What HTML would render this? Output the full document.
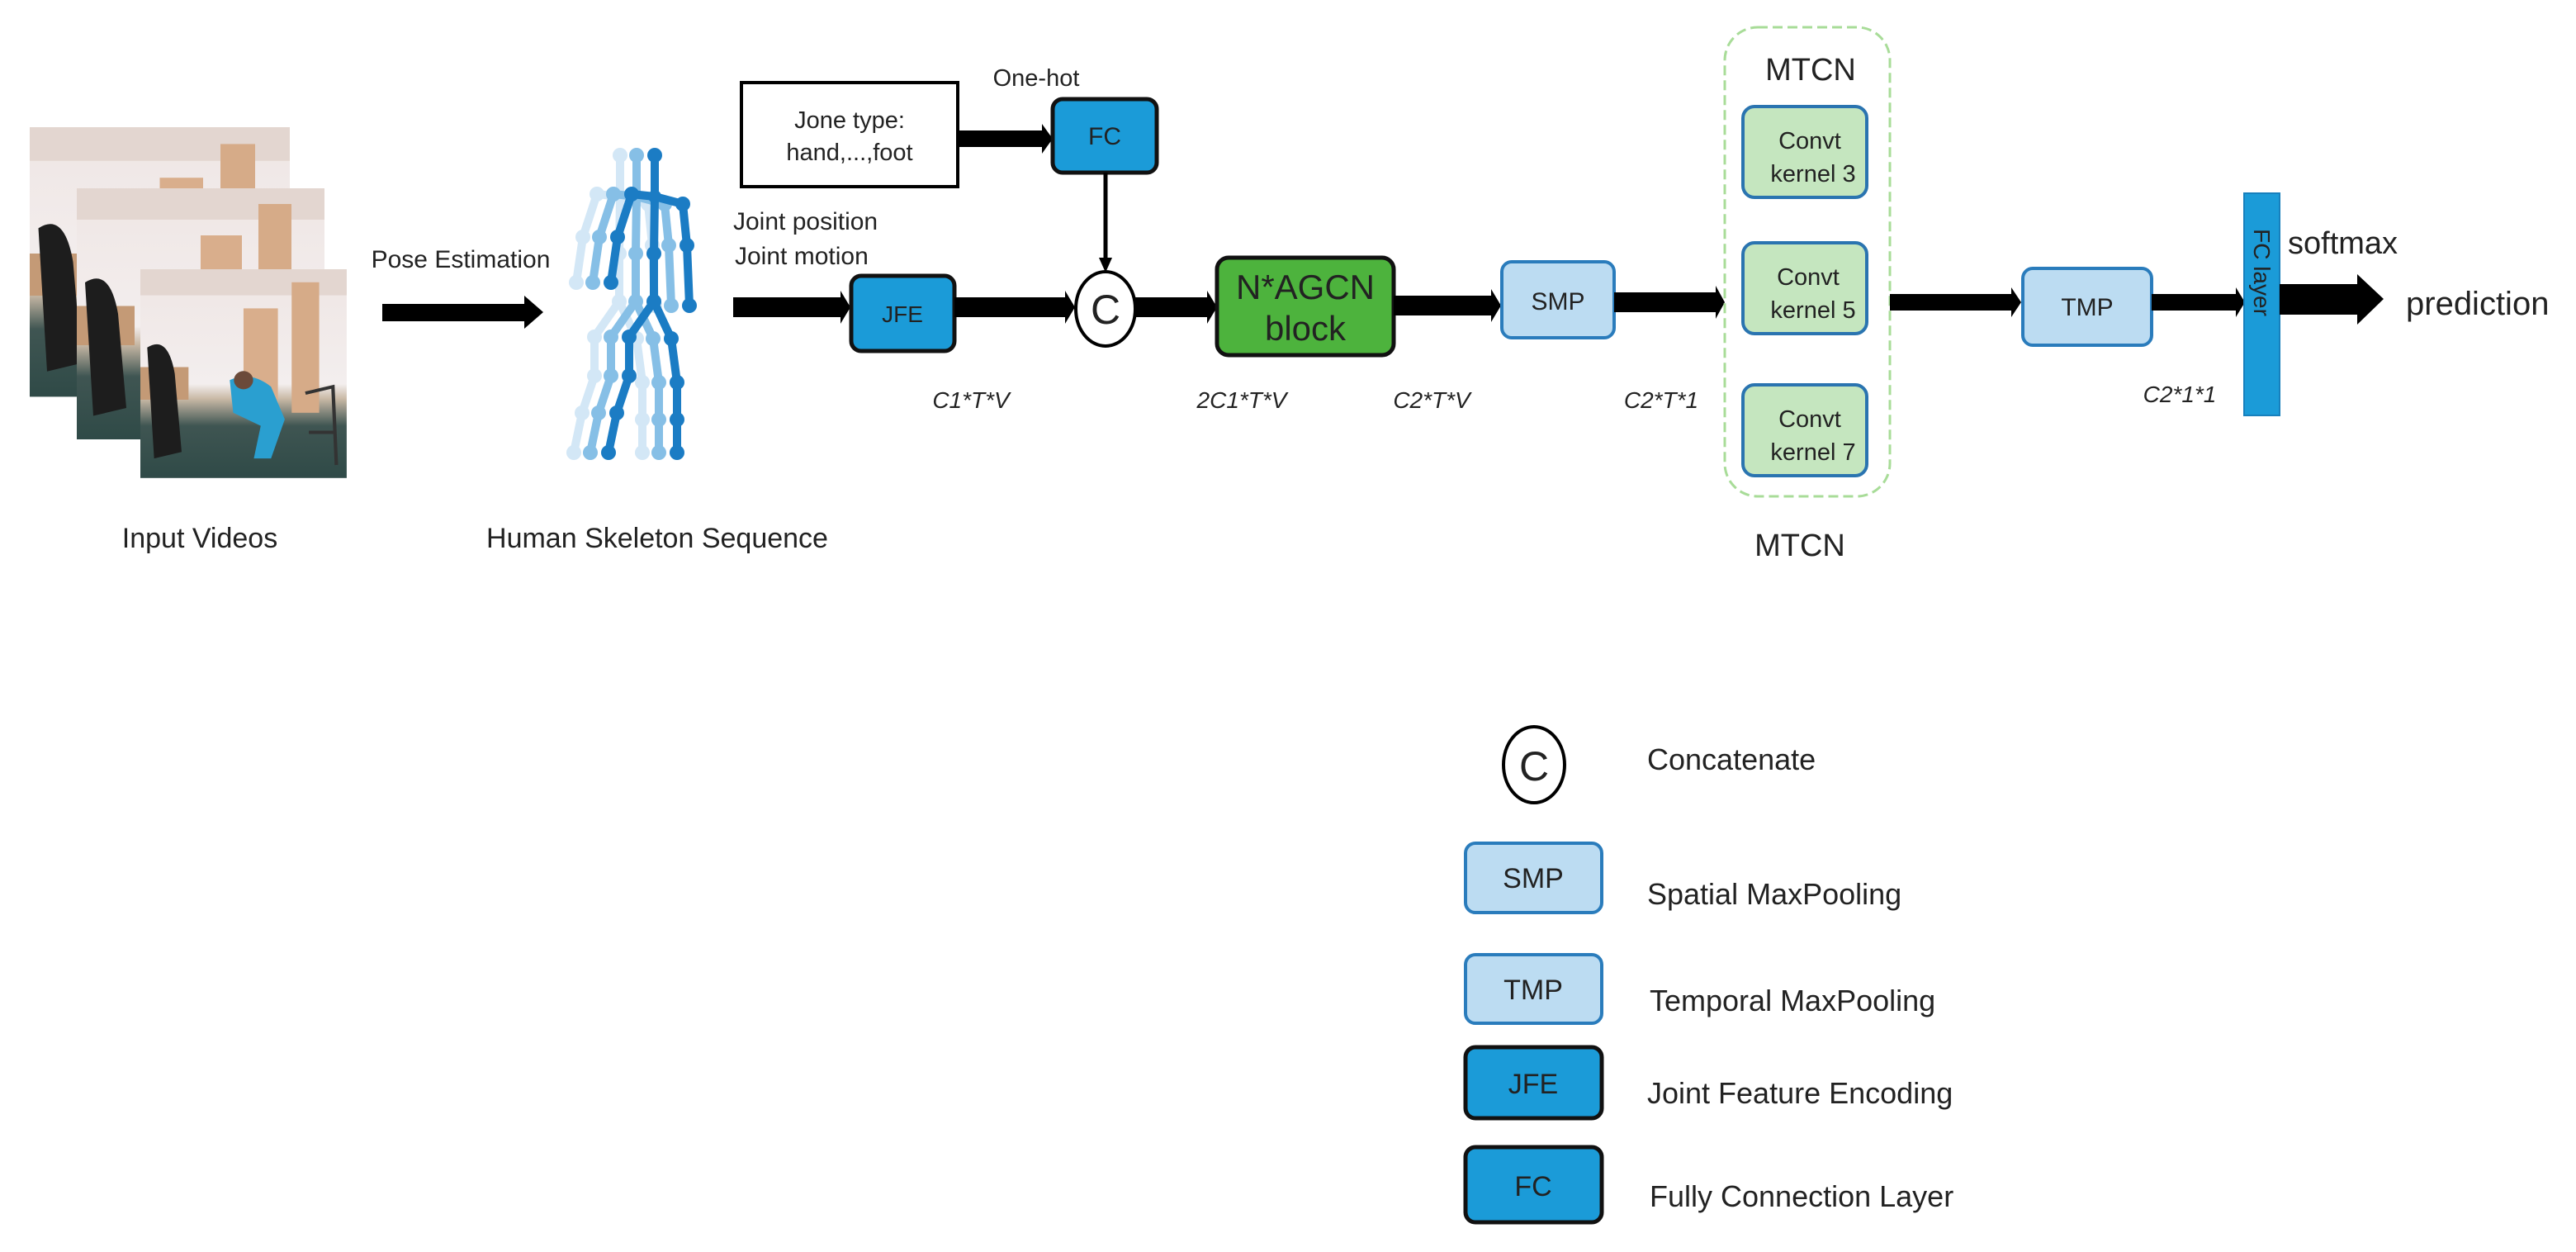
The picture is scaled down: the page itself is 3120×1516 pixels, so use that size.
<!DOCTYPE html>
<html><head><meta charset="utf-8"><style>
html,body{margin:0;padding:0;background:#fff;}
svg{display:block;}
text{font-family:"Liberation Sans",sans-serif;fill:#222;}
</style></head><body>
<svg width="3120" height="1516" viewBox="0 0 3120 1516" xmlns="http://www.w3.org/2000/svg">
<defs>
<linearGradient id="wall" x1="0" y1="0" x2="0" y2="1">
<stop offset="0" stop-color="#efe6e4"/><stop offset="0.55" stop-color="#f3eeee"/><stop offset="0.62" stop-color="#c9b9a6"/><stop offset="0.75" stop-color="#3f5552"/><stop offset="1" stop-color="#2f4a47"/>
</linearGradient>
<g id="frame">
<rect x="0" y="0" width="300" height="320" fill="url(#wall)"/>
<rect x="0" y="0" width="300" height="40" fill="#e3d6d0"/>
<rect x="150" y="60" width="50" height="160" fill="#d9ae8c"/>
<rect x="220" y="20" width="40" height="200" fill="#d6ab88"/>
<rect x="0" y="150" width="70" height="50" fill="#c49a76"/>
<path d="M10 120 q30 -20 40 40 l10 120 l-40 10 z" fill="#1d1d1d"/>
</g>
<g id="skel">
<g stroke-width="10" fill="none" stroke-linecap="round" stroke-linejoin="round">
<polyline points="793,188 793,238 792,307 792,365"/>
<polyline points="765,235 793,238 827,247"/>
<polyline points="765,235 748,287 740,342"/>
<polyline points="827,247 832,297 835,370"/>
<polyline points="792,365 762,408 762,455 747,500 737,548"/>
<polyline points="792,365 813,410 820,463 820,508 820,548"/>
</g>
<g stroke="none">
<circle cx="793" cy="188" r="9"/><circle cx="793" cy="238" r="8"/><circle cx="765" cy="235" r="9"/><circle cx="827" cy="247" r="9"/>
<circle cx="748" cy="287" r="9"/><circle cx="740" cy="342" r="9"/><circle cx="832" cy="297" r="9"/><circle cx="835" cy="370" r="9"/>
<circle cx="792" cy="307" r="9"/><circle cx="792" cy="365" r="9"/><circle cx="762" cy="408" r="9"/><circle cx="813" cy="410" r="9"/>
<circle cx="762" cy="455" r="9"/><circle cx="820" cy="463" r="9"/><circle cx="747" cy="500" r="9"/><circle cx="820" cy="508" r="9"/>
<circle cx="737" cy="548" r="9"/><circle cx="820" cy="548" r="9"/>
</g>
</g>
</defs>

<!-- Input video frames -->
<use href="#frame" transform="translate(36,154) scale(1.05,1.02)"/>
<use href="#frame" transform="translate(93,228) scale(1.0,0.95)"/>
<g transform="translate(170,326) scale(0.833,0.79)">
<use href="#frame"/>
<path d="M130 170 q30 -15 60 10 l20 50 l-20 60 l-25 0 l10 -50 l-40 -20 z" fill="#2a9fd0"/>
<circle cx="150" cy="170" r="14" fill="#6b4a3a"/>
<path d="M240 190 l40 -10 l5 120 M245 250 l40 0" stroke="#333" stroke-width="5" fill="none"/>
</g>
<text x="242" y="663" font-size="34" text-anchor="middle">Input Videos</text>

<!-- Pose estimation arrow -->
<text x="558" y="324" font-size="30" text-anchor="middle">Pose Estimation</text>
<path d="M463 368 H635 V358 L658 378 L635 398 V389 H463 Z" fill="#000"/>

<!-- Skeleton -->
<use href="#skel" transform="translate(-42,0)" stroke="#d3e7f6" fill="#d3e7f6"/>
<use href="#skel" transform="translate(-22,0)" stroke="#86bfe6" fill="#86bfe6"/>
<use href="#skel" stroke="#1b7cc4" fill="#1b7cc4"/>
<text x="796" y="663" font-size="34" text-anchor="middle">Human Skeleton Sequence</text>

<!-- Joint labels -->
<text x="888" y="278" font-size="30">Joint  position</text>
<text x="890" y="320" font-size="30">Joint  motion</text>

<!-- Jone type box -->
<rect x="898" y="100" width="262" height="126" fill="#fff" stroke="#000" stroke-width="4"/>
<text x="1029" y="155" font-size="29" text-anchor="middle">Jone type:</text>
<text x="1029" y="194" font-size="29" text-anchor="middle">hand,...,foot</text>
<text x="1255" y="104" font-size="29" text-anchor="middle">One-hot</text>
<path d="M1160 158 H1262 V150 L1275 168 L1262 186 V178 H1160 Z" fill="#000"/>
<rect x="1275" y="120" width="126" height="89" rx="12" fill="#1b9bd8" stroke="#111" stroke-width="5"/>
<text x="1338" y="175" font-size="30" text-anchor="middle">FC</text>
<line x1="1339" y1="209" x2="1339" y2="318" stroke="#000" stroke-width="5"/>
<path d="M1331 312 L1339 330 L1347 312 Z" fill="#000"/>

<!-- main row arrows -->
<path d="M888 360 H1018 V352 L1030 372 L1018 392 V384 H888 Z" fill="#000"/>
<rect x="1031" y="334" width="125" height="91" rx="12" fill="#1b9bd8" stroke="#111" stroke-width="5"/>
<text x="1093" y="390" font-size="28" text-anchor="middle">JFE</text>
<path d="M1156 360 H1290 V352 L1302 372 L1290 392 V384 H1156 Z" fill="#000"/>
<ellipse cx="1339" cy="374" rx="36" ry="45" fill="#fff" stroke="#000" stroke-width="4"/>
<text x="1339" y="392" font-size="50" text-anchor="middle">C</text>
<path d="M1375 360 H1462 V352 L1474 372 L1462 392 V384 H1375 Z" fill="#000"/>
<rect x="1474" y="312" width="214" height="118" rx="14" fill="#4db33d" stroke="#111" stroke-width="5"/>
<text x="1581" y="362" font-size="42" text-anchor="middle">N*AGCN</text>
<text x="1581" y="412" font-size="42" text-anchor="middle">block</text>
<path d="M1688 358 H1806 V350 L1818 370 L1806 390 V382 H1688 Z" fill="#000"/>
<rect x="1819" y="317" width="136" height="92" rx="12" fill="#bcdcf2" stroke="#2a7cbc" stroke-width="4"/>
<text x="1887" y="375" font-size="30" text-anchor="middle">SMP</text>
<path d="M1955 354 H2078 V346 L2089 366 L2078 386 V378 H1955 Z" fill="#000"/>

<!-- dimension labels -->
<g font-style="italic" font-size="28" text-anchor="middle">
<text x="1176" y="494">C1*T*V</text>
<text x="1504" y="494">2C1*T*V</text>
<text x="1734" y="494">C2*T*V</text>
<text x="2012" y="494">C2*T*1</text>
<text x="2640" y="487">C2*1*1</text>
</g>

<!-- MTCN -->
<rect x="2089" y="33" width="200" height="568" rx="40" fill="none" stroke="#a8dc98" stroke-width="3" stroke-dasharray="12,6"/>
<text x="2193" y="97" font-size="38" text-anchor="middle">MTCN</text>
<g fill="#c5e6bf" stroke="#2a74b0" stroke-width="4">
<rect x="2111" y="129" width="150" height="110" rx="14"/>
<rect x="2111" y="294" width="150" height="110" rx="14"/>
<rect x="2111" y="466" width="150" height="110" rx="14"/>
</g>
<g font-size="29" text-anchor="middle">
<text x="2192" y="180">Convt</text><text x="2196" y="220">kernel 3</text>
<text x="2190" y="345">Convt</text><text x="2196" y="385">kernel 5</text>
<text x="2192" y="517">Convt</text><text x="2196" y="557">kernel 7</text>
</g>
<text x="2180" y="673" font-size="38" text-anchor="middle">MTCN</text>

<path d="M2289 356 H2436 V348 L2448 366 L2436 384 V376 H2289 Z" fill="#000"/>
<rect x="2450" y="325" width="156" height="93" rx="12" fill="#bcdcf2" stroke="#2a7cbc" stroke-width="4"/>
<text x="2528" y="382" font-size="30" text-anchor="middle">TMP</text>
<path d="M2606 356 H2708 V348 L2719 366 L2708 384 V376 H2606 Z" fill="#000"/>
<rect x="2718" y="234" width="43" height="269" fill="#1b9bd8" stroke="#1780bd" stroke-width="2"/>
<text x="0" y="0" font-size="28" text-anchor="middle" transform="translate(2730,330) rotate(90)">FC layer</text>
<text x="2771" y="307" font-size="38">softmax</text>
<path d="M2761 344 H2855 V332 L2887 362 L2855 393 V381 H2761 Z" fill="#000"/>
<text x="2914" y="381" font-size="40">prediction</text>

<!-- Legend -->
<ellipse cx="1858" cy="926" rx="37" ry="46" fill="#fff" stroke="#000" stroke-width="4"/>
<text x="1858" y="945" font-size="50" text-anchor="middle">C</text>
<text x="1995" y="932" font-size="36">Concatenate</text>
<rect x="1775" y="1021" width="165" height="84" rx="12" fill="#bcdcf2" stroke="#2a7cbc" stroke-width="4"/>
<text x="1857" y="1075" font-size="34" text-anchor="middle">SMP</text>
<text x="1995" y="1095" font-size="36">Spatial MaxPooling</text>
<rect x="1775" y="1156" width="165" height="83" rx="12" fill="#bcdcf2" stroke="#2a7cbc" stroke-width="4"/>
<text x="1857" y="1210" font-size="34" text-anchor="middle">TMP</text>
<text x="1998" y="1224" font-size="36">Temporal MaxPooling</text>
<rect x="1775" y="1268" width="165" height="86" rx="12" fill="#1b9bd8" stroke="#111" stroke-width="5"/>
<text x="1857" y="1324" font-size="34" text-anchor="middle">JFE</text>
<text x="1995" y="1336" font-size="36">Joint Feature Encoding</text>
<rect x="1775" y="1389" width="165" height="91" rx="12" fill="#1b9bd8" stroke="#111" stroke-width="5"/>
<text x="1857" y="1448" font-size="34" text-anchor="middle">FC</text>
<text x="1998" y="1461" font-size="36">Fully Connection Layer</text>
</svg>
</body></html>
